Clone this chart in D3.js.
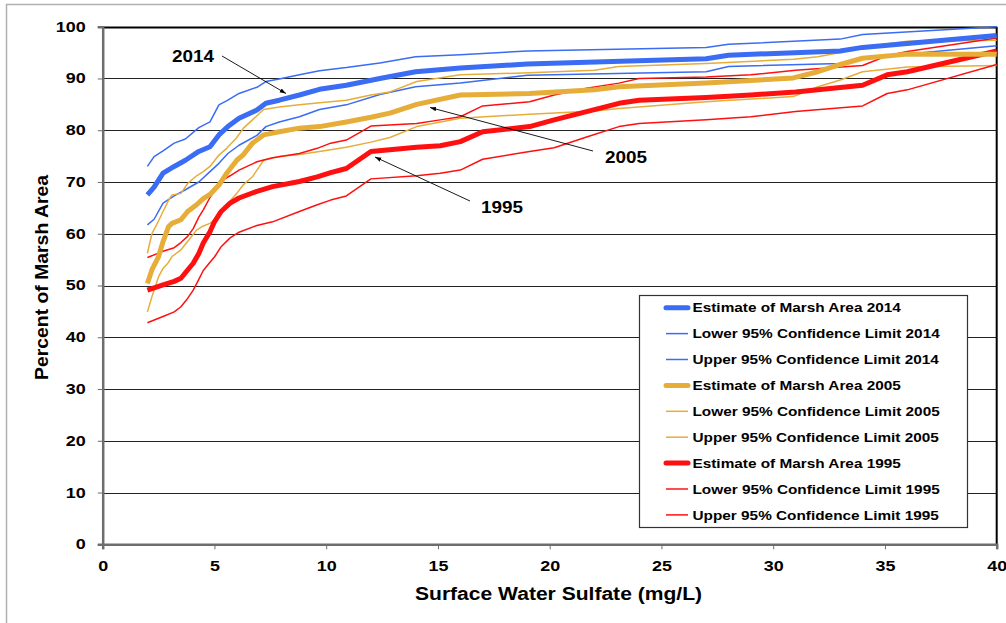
<!DOCTYPE html>
<html><head><meta charset="utf-8">
<script src="https://cdn.jsdelivr.net/npm/d3@7"></script>
<style>
body{margin:0;background:#fff;}
text{font-family:"Liberation Sans",Arial,sans-serif;font-weight:bold;fill:#000;}
</style></head><body>
<svg id="chart" width="1006" height="623"></svg>
<script>
// ---- data ----
const sulfate2014 = [2.0,2.3,2.7,3.2,3.7,4.3,4.8,5.2,5.6,6.1,6.9,7.3,7.9,8.8,9.7,10.9,12.4,14.0,16.0,19.0,27.0,28.0,33.0,34.0,40.0];
const est2014 =     [67.5,69.0,71.7,73.0,74.2,75.9,76.8,79.1,80.7,82.3,83.9,85.2,85.8,86.8,87.9,88.7,90.0,91.3,92.0,92.8,93.8,94.5,95.3,96.0,98.3];
const lower2014 =   [61.7,62.8,65.9,67.3,68.5,70.0,72.0,73.6,75.5,77.1,79.0,80.7,81.6,82.6,84.0,84.9,86.9,88.4,89.1,90.6,91.3,92.3,92.9,93.9,96.3];
const upper2014 =   [73.0,74.9,76.0,77.5,78.3,80.5,81.6,84.9,85.8,87.1,88.3,89.4,89.9,90.7,91.5,92.1,93.0,94.2,94.6,95.3,96.0,96.6,97.6,98.5,100.0];

const sulfate2005 = [2.0,2.2,2.5,2.7,2.95,3.1,3.5,3.8,4.2,4.5,4.8,5.2,5.55,6.0,6.3,6.7,7.2,7.9,8.8,9.7,10.9,12.0,12.85,14.05,16.0,19.1,22.0,23.1,27.0,30.9,32.0,33.0,34.0,36.0,40.0];
const est2005 =     [50.4,53.0,55.6,58.5,61.4,62.0,62.7,64.3,65.6,66.8,67.6,69.4,71.7,74.2,75.3,77.5,79.1,79.7,80.4,80.7,81.6,82.5,83.3,85.0,86.8,87.1,87.8,88.4,89.1,90.1,91.3,92.7,93.9,94.7,94.7];
const lower2005 =   [44.9,47.8,51.7,53.3,54.5,55.6,56.9,58.5,60.7,61.5,62.0,63.3,65.6,67.8,69.5,71.0,74.2,74.9,75.3,75.9,76.7,77.7,78.6,80.7,82.3,83.1,83.7,84.2,85.5,86.5,88.4,89.7,91.3,92.2,92.5];
const upper2005 =   [56.2,60.0,62.5,64.3,66.5,67.5,67.8,69.7,71.2,72.0,73.0,75.2,76.5,78.6,80.4,82.0,84.0,84.5,84.9,85.3,85.8,86.8,87.4,89.4,90.7,91.1,91.6,92.3,92.9,93.7,94.2,95.0,96.1,97.2,97.4];

const sulfate1995 = [2.0,2.7,3.2,3.5,3.8,4.05,4.3,4.5,4.8,5.0,5.3,5.7,6.1,6.9,7.6,8.8,9.6,10.2,10.9,12.0,14.05,15.1,16.0,17.0,19.1,20.2,21.65,23.1,24.0,27.0,29.0,31.0,34.0,35.1,36.0,40.0];
const est1995 =     [49.1,50.1,50.8,51.4,53.0,54.3,56.2,58.2,60.4,62.3,64.3,65.9,66.9,68.2,69.1,70.1,71.0,71.8,72.6,75.9,76.7,77.0,77.8,79.7,80.7,82.0,83.6,85.2,85.8,86.3,86.8,87.4,88.7,90.7,91.3,95.3];
const lower1995 =   [42.8,44.0,44.9,45.9,47.5,49.1,51.2,52.9,54.5,55.5,57.5,59.2,60.3,61.6,62.3,64.3,65.6,66.5,67.3,70.6,71.2,71.7,72.3,74.4,75.9,76.6,78.7,80.7,81.3,82.0,82.6,83.6,84.7,87.1,87.8,92.7];
const upper1995 =   [55.4,56.6,57.3,58.3,59.5,61.0,63.2,64.6,67.0,68.3,70.2,71.2,72.3,73.9,74.7,75.5,76.5,77.5,78.1,80.8,81.3,82.0,82.6,84.7,85.5,86.8,88.1,89.1,90.0,90.3,90.7,91.6,92.5,94.4,95.2,97.8];

const legendLabels = ["Estimate of Marsh Area 2014","Lower 95% Confidence Limit 2014","Upper 95% Confidence Limit 2014",
  "Estimate of Marsh Area 2005","Lower 95% Confidence Limit 2005","Upper 95% Confidence Limit 2005",
  "Estimate of Marsh Area 1995","Lower 95% Confidence Limit 1995","Upper 95% Confidence Limit 1995"];
const xTicks = [0,5,10,15,20,25,30,35,40];
const yTicks = [0,10,20,30,40,50,60,70,80,90,100];
const annotations = [
  {label:"2014", tx:193, ty:56, x0:222, y0:56, x1:286, y1:93.5},
  {label:"2005", tx:626, ty:157, x0:593, y0:151, x1:430, y1:107.5},
  {label:"1995", tx:502, ty:207, x0:470, y0:201, x1:375, y1:157}
];

// ---- helpers ----
// the reference's lettering is horizontally stretched; widen text to match
function stretch(sel, k){
  sel.each(function(){
    const w = this.getComputedTextLength();
    d3.select(this).attr("textLength", w*k).attr("lengthAdjust","spacingAndGlyphs");
  });
}

// ---- layout ----
const svg = d3.select("#chart");
const L = 102.7, R = 996.7, T = 26.7, B = 544.3;
const x = d3.scaleLinear().domain([0,40]).range([L,R]);
const y = d3.scaleLinear().domain([0,100]).range([B,T]);

const colors = {"2014":"#3a6cf4","2005":"#e6ad38","1995":"#ff1010"};

// outer frame
svg.append("rect").attr("x",6.5).attr("y",4.5).attr("width",1010).attr("height",630)
  .attr("fill","#fff").attr("stroke","#b0b0b0").attr("stroke-width",1.5);

// gridlines
svg.append("g").selectAll("line").data(yTicks.filter(d=>d>0)).join("line")
  .attr("x1",L).attr("x2",R).attr("y1",d=>Math.round(y(d))+0.5).attr("y2",d=>Math.round(y(d))+0.5)
  .attr("stroke",d=>d===100?"#000":"#222").attr("stroke-width",d=>d===100?2:1.2);
// right border
svg.append("line").attr("x1",R).attr("x2",R).attr("y1",T).attr("y2",B).attr("stroke","#000").attr("stroke-width",2);

// axes
const yAxis = d3.axisLeft(y).tickValues(yTicks).tickSize(5).tickPadding(12).tickFormat(d3.format("d"));
const gy = svg.append("g").attr("transform",`translate(${L},0)`).call(yAxis);
gy.select(".domain").attr("stroke","#6e6e6e").attr("stroke-width",2.5);
gy.selectAll(".tick line").attr("stroke","#6e6e6e");
gy.selectAll("text").style("font-size","14px").style("font-family","Liberation Sans, Arial, sans-serif").style("font-weight","bold").attr("fill","#000");
stretch(gy.selectAll("text"), 1.28);

const xAxis = d3.axisBottom(x).tickValues(xTicks).tickSize(5).tickPadding(12).tickFormat(d3.format("d"));
const gx = svg.append("g").attr("transform",`translate(0,${B})`).call(xAxis);
gx.select(".domain").attr("stroke","#6e6e6e").attr("stroke-width",2.5);
gx.selectAll(".tick line").attr("stroke","#6e6e6e");
gx.selectAll("text").style("font-size","14px").style("font-family","Liberation Sans, Arial, sans-serif").style("font-weight","bold").attr("fill","#000");
stretch(gx.selectAll("text"), 1.28);

// axis titles
svg.append("text").attr("x",558.5).attr("y",600).attr("text-anchor","middle").style("font-size","18px")
  .attr("textLength",287).attr("lengthAdjust","spacingAndGlyphs")
  .text("Surface Water Sulfate (mg/L)");
svg.append("text").attr("transform","translate(48,277.5) rotate(-90)").attr("text-anchor","middle").style("font-size","18px")
  .attr("textLength",205).attr("lengthAdjust","spacingAndGlyphs")
  .text("Percent of Marsh Area");

// series
const series = [
  {xs:sulfate2014, ys:upper2014, c:colors["2014"], w:1.5},
  {xs:sulfate2014, ys:lower2014, c:colors["2014"], w:1.5},
  {xs:sulfate2005, ys:upper2005, c:colors["2005"], w:1.5},
  {xs:sulfate2005, ys:lower2005, c:colors["2005"], w:1.5},
  {xs:sulfate1995, ys:upper1995, c:colors["1995"], w:1.5},
  {xs:sulfate1995, ys:lower1995, c:colors["1995"], w:1.5},
  {xs:sulfate1995, ys:est1995, c:colors["1995"], w:5},
  {xs:sulfate2005, ys:est2005, c:colors["2005"], w:5},
  {xs:sulfate2014, ys:est2014, c:colors["2014"], w:5}
];
const line = d3.line().x(d=>x(d[0])).y(d=>y(d[1]));
svg.append("g").selectAll("path").data(series).join("path")
  .attr("d",s=>line(s.xs.map((v,i)=>[v,s.ys[i]])))
  .attr("fill","none").attr("stroke",s=>s.c).attr("stroke-width",s=>s.w)
  .attr("stroke-linejoin","round").attr("stroke-linecap","butt");

// annotations
svg.append("defs").append("marker").attr("id","arr").attr("viewBox","0 0 10 10")
  .attr("refX",10).attr("refY",5).attr("markerWidth",7).attr("markerHeight",7).attr("orient","auto")
  .append("path").attr("d","M0,1.5 L10,5 L0,8.5 z").attr("fill","#000");
const ga = svg.append("g");
annotations.forEach(a=>{
  ga.append("line").attr("x1",a.x0).attr("y1",a.y0).attr("x2",a.x1).attr("y2",a.y1)
    .attr("stroke","#000").attr("stroke-width",0.9).attr("marker-end","url(#arr)");
  ga.append("text").attr("x",a.tx).attr("y",a.ty).attr("dy","0.35em").attr("text-anchor","middle")
    .style("font-size","16px").attr("textLength",42).attr("lengthAdjust","spacingAndGlyphs").text(a.label);
});

// legend
const lg = svg.append("g");
lg.append("rect").attr("x",639.5).attr("y",295.5).attr("width",328).attr("height",232)
  .attr("fill","#fff").attr("stroke","#333").attr("stroke-width",1.2);
const legendColors = [colors["2014"],colors["2014"],colors["2014"],colors["2005"],colors["2005"],colors["2005"],colors["1995"],colors["1995"],colors["1995"]];
legendLabels.forEach((lab,i)=>{
  const cy = 307.7 + i*25.9;
  const thick = i%3===0;
  lg.append("line").attr("x1",666).attr("x2",688).attr("y1",cy).attr("y2",cy)
    .attr("stroke",legendColors[i]).attr("stroke-width",thick?5:1.5).attr("stroke-linecap",thick?"round":"butt");
  const t = lg.append("text").attr("x",692.5).attr("y",cy).attr("dy","0.36em").style("font-size","13px").text(lab);
  stretch(t, 1.18);
});
</script>
</body></html>
